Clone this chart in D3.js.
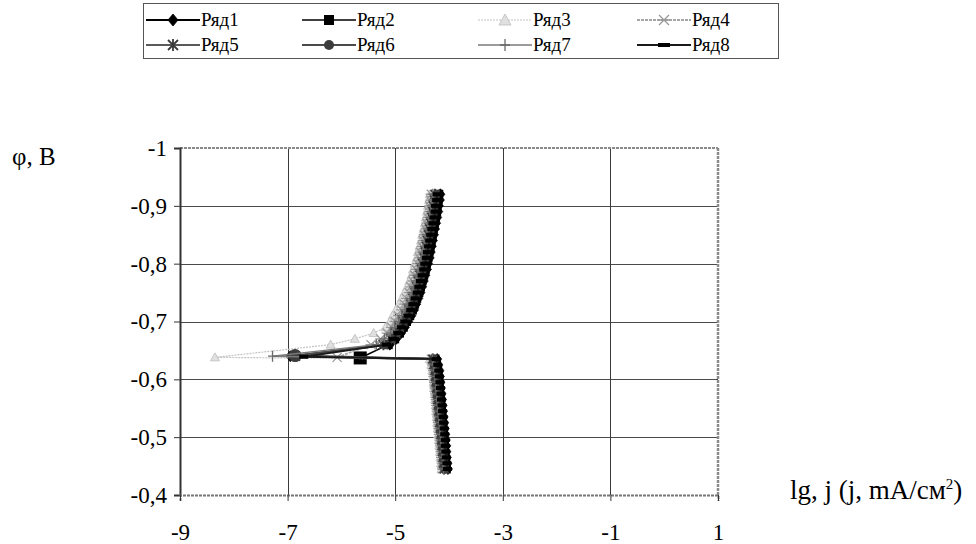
<!DOCTYPE html>
<html><head><meta charset="utf-8">
<script src="https://cdn.jsdelivr.net/npm/d3@7"></script>
<style>
body{margin:0;background:#fff}
svg text{font-family:"Liberation Serif","Times New Roman",serif !important;fill:#000}
</style>
</head><body>
<svg id="chart" width="976" height="544"></svg>
<script>
const seriesNames = ["Ряд1","Ряд2","Ряд3","Ряд4","Ряд5","Ряд6","Ряд7","Ряд8"];
const xTicks = [-9,-7,-5,-3,-1,1];
const yTicks = [-1,-0.9,-0.8,-0.7,-0.6,-0.5,-0.4];

// cathodic branch potentials (V)
const phiCath = [-0.92,-0.91,-0.90,-0.89,-0.88,-0.87,-0.86,-0.85,-0.84,-0.83,-0.82,-0.81,-0.80,-0.79,-0.78,-0.77,-0.76,-0.75,-0.74,-0.73,-0.72,-0.71,-0.70,-0.69,-0.68,-0.67,-0.66];
// anodic branch potentials (V)
const phiAnod = [-0.635,-0.625,-0.615,-0.605,-0.595,-0.585,-0.575,-0.565,-0.555,-0.545,-0.535,-0.525,-0.515,-0.505,-0.495,-0.485,-0.475,-0.465,-0.455,-0.445];

// lg j, cathodic branch
const lgCath1 = [-4.16,-4.17,-4.19,-4.20,-4.22,-4.24,-4.26,-4.28,-4.30,-4.32,-4.34,-4.36,-4.39,-4.41,-4.44,-4.47,-4.50,-4.53,-4.57,-4.61,-4.65,-4.70,-4.76,-4.82,-4.89,-4.98,-5.10];
const lgCath2 = [-4.19,-4.20,-4.22,-4.23,-4.25,-4.27,-4.29,-4.31,-4.33,-4.35,-4.37,-4.39,-4.42,-4.44,-4.47,-4.50,-4.53,-4.56,-4.60,-4.64,-4.68,-4.73,-4.79,-4.85,-4.92,-5.01,-5.13];
const lgCath3 = [-4.36,-4.37,-4.39,-4.41,-4.43,-4.45,-4.47,-4.50,-4.52,-4.55,-4.58,-4.60,-4.64,-4.67,-4.70,-4.74,-4.78,-4.83,-4.88,-4.93,-4.99,-5.05,-5.10,-5.18,-5.40,-5.75,-6.20];
const lgCath4 = [-4.33,-4.34,-4.36,-4.37,-4.39,-4.41,-4.43,-4.46,-4.48,-4.50,-4.53,-4.55,-4.58,-4.61,-4.64,-4.67,-4.71,-4.74,-4.79,-4.83,-4.88,-4.94,-5.00,-5.07,-5.15,-5.27,-5.45];
const lgCath5 = [-4.26,-4.27,-4.29,-4.30,-4.32,-4.34,-4.36,-4.38,-4.40,-4.42,-4.44,-4.46,-4.49,-4.51,-4.54,-4.57,-4.60,-4.63,-4.67,-4.71,-4.75,-4.80,-4.86,-4.92,-4.99,-5.08,-5.22];
const lgCath6 = [-4.24,-4.25,-4.27,-4.28,-4.30,-4.32,-4.34,-4.36,-4.38,-4.40,-4.42,-4.44,-4.47,-4.49,-4.52,-4.55,-4.58,-4.61,-4.65,-4.69,-4.73,-4.78,-4.84,-4.90,-4.97,-5.06,-5.20];
const lgCath7 = [-4.30,-4.31,-4.33,-4.34,-4.36,-4.38,-4.40,-4.42,-4.44,-4.46,-4.49,-4.51,-4.54,-4.56,-4.59,-4.62,-4.66,-4.69,-4.73,-4.78,-4.82,-4.88,-4.94,-5.01,-5.09,-5.20,-5.35];
const lgCath8 = [-4.22,-4.23,-4.25,-4.26,-4.28,-4.30,-4.32,-4.34,-4.36,-4.38,-4.40,-4.42,-4.45,-4.47,-4.50,-4.53,-4.56,-4.59,-4.63,-4.67,-4.71,-4.76,-4.82,-4.88,-4.95,-5.04,-5.16];

// corrosion-potential (minimum current) points
const minLg  = [-6.95,-5.65,-8.35,-6.08,-6.85,-6.86,-7.28,-6.70];
const minPhi = [-0.640,-0.637,-0.638,-0.638,-0.640,-0.641,-0.640,-0.639];

// lg j, anodic branch
const lgAnod1 = [-4.22,-4.20,-4.18,-4.17,-4.16,-4.15,-4.14,-4.13,-4.12,-4.11,-4.10,-4.09,-4.08,-4.07,-4.06,-4.05,-4.05,-4.04,-4.03,-4.02];
const lgAnod2 = [-4.26,-4.23,-4.21,-4.20,-4.19,-4.18,-4.17,-4.16,-4.15,-4.14,-4.13,-4.12,-4.11,-4.10,-4.09,-4.09,-4.08,-4.07,-4.06,-4.05];
const lgAnod3 = [-4.36,-4.33,-4.31,-4.30,-4.29,-4.28,-4.27,-4.26,-4.25,-4.24,-4.23,-4.22,-4.21,-4.20,-4.19,-4.18,-4.17,-4.16,-4.15,-4.14];
const lgAnod4 = [-4.33,-4.31,-4.29,-4.28,-4.27,-4.26,-4.25,-4.24,-4.23,-4.22,-4.21,-4.20,-4.19,-4.18,-4.17,-4.16,-4.15,-4.14,-4.13,-4.12];
const lgAnod5 = [-4.30,-4.28,-4.26,-4.25,-4.24,-4.23,-4.22,-4.21,-4.20,-4.19,-4.18,-4.17,-4.16,-4.15,-4.14,-4.13,-4.12,-4.11,-4.10,-4.09];
const lgAnod6 = [-4.29,-4.27,-4.25,-4.24,-4.23,-4.22,-4.21,-4.20,-4.19,-4.18,-4.17,-4.16,-4.15,-4.14,-4.13,-4.12,-4.11,-4.10,-4.09,-4.08];
const lgAnod7 = [-4.31,-4.29,-4.27,-4.26,-4.25,-4.24,-4.23,-4.22,-4.21,-4.20,-4.19,-4.18,-4.17,-4.16,-4.15,-4.14,-4.13,-4.12,-4.11,-4.10];
const lgAnod8 = [-4.24,-4.21,-4.19,-4.18,-4.17,-4.16,-4.15,-4.14,-4.13,-4.12,-4.11,-4.10,-4.09,-4.08,-4.07,-4.07,-4.06,-4.05,-4.04,-4.03];

const lgCath = [lgCath1,lgCath2,lgCath3,lgCath4,lgCath5,lgCath6,lgCath7,lgCath8];
const lgAnod = [lgAnod1,lgAnod2,lgAnod3,lgAnod4,lgAnod5,lgAnod6,lgAnod7,lgAnod8];

const styles = [
  {stroke:"#000", width:2, dash:null, marker:"diamond", fill:"#000", mstroke:"#000", size:9},
  {stroke:"#000", width:1.6, dash:null, marker:"square", fill:"#000", mstroke:"#000", size:9},
  {stroke:"#c4c4c4", width:1.2, dash:"2,1", marker:"triangle", fill:"#e0e0e0", mstroke:"#bcbcbc", size:7},
  {stroke:"#a6a6a6", width:1.8, dash:"3,1", marker:"xstar", fill:"none", mstroke:"#9a9a9a", size:9},
  {stroke:"#5a5a5a", width:2, dash:null, marker:"asterisk", fill:"none", mstroke:"#3a3a3a", size:9},
  {stroke:"#4a4a4a", width:2, dash:null, marker:"circle", fill:"#3c3c3c", mstroke:"#3c3c3c", size:9},
  {stroke:"#7a7a7a", width:1.5, dash:null, marker:"plus", fill:"none", mstroke:"#6a6a6a", size:9},
  {stroke:"#1a1a1a", width:2, dash:null, marker:"dash", fill:"#000", mstroke:"#000", size:9}
];

const FONT = "'Liberation Serif','Times New Roman',serif";
const svg = d3.select("#chart");
const x = d3.scaleLinear().domain([-9,1]).range([180,718]);
const y = d3.scaleLinear().domain([-1,-0.4]).range([148,495]);
const fmt = v => String(Math.round(v*10)/10).replace(".", ",");

// gridlines
svg.append("g").selectAll("line").data(yTicks.slice(1,-1)).join("line")
  .attr("x1",x(-9)).attr("x2",x(1)).attr("y1",d=>Math.round(y(d))+0.5).attr("y2",d=>Math.round(y(d))+0.5)
  .attr("stroke","#4a4a4a").attr("stroke-width",1);
svg.append("g").selectAll("line").data(xTicks.slice(1,-1)).join("line")
  .attr("y1",y(-1)).attr("y2",y(-0.4)).attr("x1",d=>Math.round(x(d))+0.5).attr("x2",d=>Math.round(x(d))+0.5)
  .attr("stroke","#3a3a3a").attr("stroke-width",1);

// plot frame
svg.append("line").attr("x1",x(-9)).attr("x2",x(1)).attr("y1",y(-1)).attr("y2",y(-1)).attr("stroke","#8a8a8a").attr("stroke-width",2).attr("stroke-dasharray","3,1");
svg.append("line").attr("x1",x(1)).attr("x2",x(1)).attr("y1",y(-1)).attr("y2",y(-0.4)).attr("stroke","#8a8a8a").attr("stroke-width",2.5).attr("stroke-dasharray","3,1");

// axes
const yAxis = d3.axisLeft(y).tickValues(yTicks).tickFormat(fmt).tickSize(6).tickPadding(7);
const gy = svg.append("g").attr("transform",`translate(${x(-9)},0)`).call(yAxis);
gy.attr("font-family",null);
gy.select(".domain").attr("stroke","#333").attr("stroke-width",2);
gy.selectAll(".tick line").attr("stroke","#333");
gy.selectAll("text").style("font-size","23px").style("font-family",FONT);

const xAxis = d3.axisBottom(x).tickValues(xTicks).tickFormat(d=>String(d)).tickSize(6).tickPadding(23);
const gx = svg.append("g").attr("transform",`translate(0,${y(-0.4)})`).call(xAxis);
gx.attr("font-family",null);
gx.select(".domain").attr("stroke","#777").attr("stroke-width",2).attr("stroke-dasharray","3,1");
gx.selectAll(".tick line").attr("stroke","#333");
gx.selectAll("text").style("font-size","23px").style("font-family",FONT);

// axis titles
svg.append("text").attr("x",12).attr("y",165).style("font-size","25px").style("font-family",FONT).text("φ, B");
const xt = svg.append("text").attr("x",790).attr("y",499).style("font-size","27px").style("font-family",FONT);
xt.append("tspan").text("lg, j (j, mA/см");
xt.append("tspan").style("font-size","15px").attr("dy",-10).text("2");
xt.append("tspan").attr("dy",10).text(")");

// markers
function drawMarker(g, type, st, cx, cy, s) {
  const h = s/2;
  if (type==="diamond") g.append("path").attr("d",`M${cx},${cy-h-1}L${cx+h},${cy}L${cx},${cy+h+1}L${cx-h},${cy}Z`).attr("fill",st.fill).attr("stroke",st.mstroke).attr("stroke-width",0.8);
  else if (type==="square") g.append("rect").attr("x",cx-h).attr("y",cy-h).attr("width",s).attr("height",s).attr("fill",st.fill);
  else if (type==="triangle") g.append("path").attr("d",`M${cx},${cy-h-1}L${cx+h+1},${cy+h}L${cx-h-1},${cy+h}Z`).attr("fill",st.fill).attr("stroke",st.mstroke).attr("stroke-width",0.8);
  else if (type==="circle") g.append("circle").attr("cx",cx).attr("cy",cy).attr("r",h).attr("fill",st.fill);
  else if (type==="xstar") g.append("path").attr("d",`M${cx-h},${cy-h}L${cx+h},${cy+h}M${cx-h},${cy+h}L${cx+h},${cy-h}M${cx-h-1},${cy}L${cx+h+1},${cy}`).attr("stroke",st.mstroke).attr("stroke-width",1.3).attr("fill","none");
  else if (type==="asterisk") g.append("path").attr("d",`M${cx-h},${cy-h}L${cx+h},${cy+h}M${cx-h},${cy+h}L${cx+h},${cy-h}M${cx},${cy-h-1}L${cx},${cy+h+1}`).attr("stroke",st.mstroke).attr("stroke-width",1.8).attr("fill","none");
  else if (type==="plus") g.append("path").attr("d",`M${cx},${cy-h-1}L${cx},${cy+h+1}M${cx-h},${cy}L${cx+h},${cy}`).attr("stroke",st.mstroke).attr("stroke-width",1.3).attr("fill","none");
  else if (type==="dash") g.append("rect").attr("x",cx-h).attr("y",cy-2).attr("width",s).attr("height",4).attr("fill",st.fill);
}

// series
const line = d3.line().x(d=>x(d[0])).y(d=>y(d[1]));
seriesNames.forEach((name,i)=>{
  const pts = [];
  phiCath.forEach((p,k)=>pts.push([lgCath[i][k],p]));
  pts.push([minLg[i],minPhi[i]]);
  phiAnod.forEach((p,k)=>pts.push([lgAnod[i][k],p]));
  const st = styles[i];
  const g = svg.append("g");
  g.append("path").attr("d",line(pts)).attr("fill","none").attr("stroke",st.stroke)
    .attr("stroke-width",st.width).attr("stroke-dasharray",st.dash);
  pts.forEach(d=>drawMarker(g, st.marker, st, x(d[0]), y(d[1]), (i===1||i===5) && d[0]===minLg[i] ? 13 : st.size));
});

// legend
const lg = svg.append("g");
lg.append("rect").attr("x",143.5).attr("y",3.5).attr("width",635).attr("height",55).attr("fill","#fff").attr("stroke","#555").attr("stroke-width",1);
const colX = [146,302,478,637];
const rowY = [20,45];
seriesNames.forEach((name,i)=>{
  const c = i%4, r = Math.floor(i/4);
  const x0 = colX[c], yy = rowY[r], st = styles[i];
  lg.append("line").attr("x1",x0).attr("x2",x0+54).attr("y1",yy).attr("y2",yy)
    .attr("stroke",st.stroke).attr("stroke-width",st.width).attr("stroke-dasharray",st.dash);
  drawMarker(lg, st.marker, st, x0+27, yy, st.marker==="dash"?12:10);
  lg.append("text").attr("x",x0+55).attr("y",yy+6).style("font-size","19px").style("font-family",FONT).text(name);
});
</script>
</body></html>
